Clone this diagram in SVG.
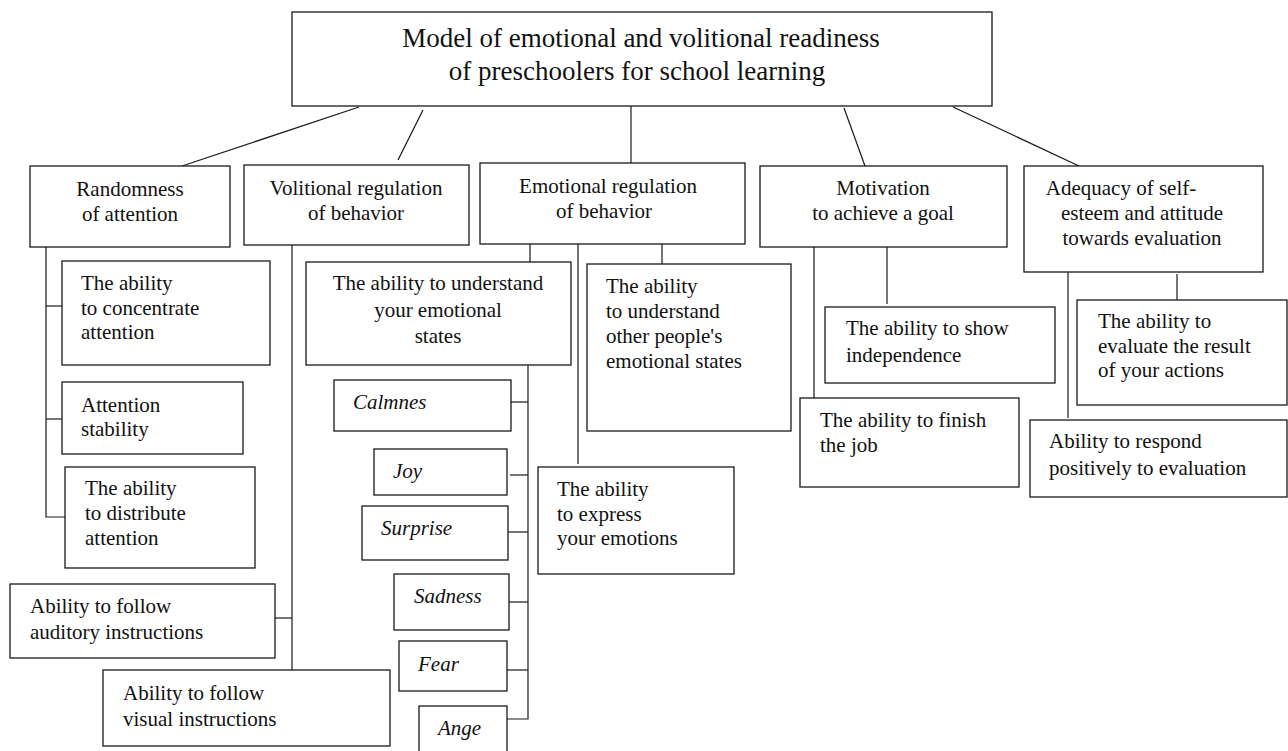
<svg xmlns="http://www.w3.org/2000/svg" width="1288" height="751" viewBox="0 0 1288 751">
<style>
rect{fill:#fff;stroke:#1a1a1a;stroke-width:1.3}
text{font-family:"Liberation Serif","Times New Roman",serif;font-size:21px;fill:#111}
.t{font-size:27px}
.c{text-anchor:middle}
.i{font-style:italic}
#connectors line,#connectors polyline{stroke:#1a1a1a;stroke-width:1.2;fill:none}
</style>
<rect x="0" y="0" width="1288" height="751" style="stroke:none;fill:#fff"/>
<g id="connectors">
<line x1="359" y1="107" x2="182" y2="166"/>
<line x1="423" y1="110" x2="398" y2="160"/>
<line x1="631" y1="106" x2="631" y2="163"/>
<line x1="844" y1="108" x2="865" y2="166"/>
<line x1="953" y1="107" x2="1079" y2="166"/>
<polyline points="46,247 46,517 65,517"/>
<line x1="46" y1="306" x2="62" y2="306"/>
<line x1="46" y1="419" x2="62" y2="419"/>
<line x1="292" y1="245" x2="292" y2="670"/>
<line x1="275" y1="618" x2="292" y2="618"/>
<line x1="530" y1="244" x2="530" y2="262"/>
<line x1="578" y1="244" x2="578" y2="464"/>
<line x1="662" y1="244" x2="662" y2="264"/>
<polyline points="528,365 528,719 507,719"/>
<line x1="511" y1="402" x2="528" y2="402"/>
<line x1="510" y1="475" x2="528" y2="475"/>
<line x1="508" y1="532" x2="528" y2="532"/>
<line x1="509" y1="602" x2="528" y2="602"/>
<line x1="507" y1="670" x2="528" y2="670"/>
<line x1="814" y1="247" x2="814" y2="398"/>
<line x1="887" y1="247" x2="887" y2="304"/>
<line x1="1068" y1="272" x2="1068" y2="418"/>
<line x1="1177" y1="274" x2="1177" y2="300"/>
</g>
<g id="root"><rect x="292" y="12" width="700" height="94"/>
<text class="t c" x="641" y="47">Model of emotional and volitional readiness</text>
<text class="t c" x="637" y="80">of preschoolers for school learning</text></g>
<g id="randomness"><rect x="30" y="166" width="200" height="81"/>
<text class="c" x="130" y="196">Randomness</text><text class="c" x="130" y="221">of attention</text></g>
<g id="volitional"><rect x="244" y="165" width="225" height="80"/>
<text class="c" x="356" y="195">Volitional regulation</text><text class="c" x="356" y="220">of behavior</text></g>
<g id="emotional"><rect x="480" y="163" width="265" height="81"/>
<text class="c" x="608" y="193">Emotional regulation</text><text class="c" x="604" y="218">of behavior</text></g>
<g id="motivation"><rect x="760" y="166" width="247" height="81"/>
<text class="c" x="883" y="195">Motivation</text><text class="c" x="883" y="220">to achieve a goal</text></g>
<g id="adequacy"><rect x="1024" y="166" width="239" height="106"/>
<text class="c" x="1121" y="195">Adequacy of self-</text><text class="c" x="1142" y="220">esteem and attitude</text><text class="c" x="1142" y="245">towards evaluation</text></g>
<g id="concentrate"><rect x="62" y="261" width="208" height="104"/>
<text x="81" y="290">The ability</text><text x="81" y="315">to concentrate</text><text x="81" y="339">attention</text></g>
<g id="stability"><rect x="62" y="382" width="181" height="72"/>
<text x="81" y="412">Attention</text><text x="81" y="436">stability</text></g>
<g id="distribute"><rect x="65" y="467" width="190" height="101"/>
<text x="85" y="495">The ability</text><text x="85" y="520">to distribute</text><text x="85" y="545">attention</text></g>
<g id="auditory"><rect x="10" y="584" width="265" height="74"/>
<text x="30" y="613">Ability to follow</text><text x="30" y="639">auditory instructions</text></g>
<g id="visual"><rect x="103" y="670" width="287" height="76"/>
<text x="123" y="700">Ability to follow</text><text x="123" y="726">visual instructions</text></g>
<g id="understand-own"><rect x="306" y="262" width="265" height="103"/>
<text class="c" x="438" y="290">The ability to understand</text><text class="c" x="438" y="317">your emotional</text><text class="c" x="438" y="343">states</text></g>
<g id="calmnes"><rect x="334" y="380" width="177" height="51"/><text class="i" x="353" y="409">Calmnes</text></g>
<g id="joy"><rect x="374" y="449" width="133" height="46"/><text class="i" x="393" y="478">Joy</text></g>
<g id="surprise"><rect x="362" y="506" width="146" height="54"/><text class="i" x="381" y="535">Surprise</text></g>
<g id="sadness"><rect x="394" y="574" width="115" height="56"/><text class="i" x="414" y="603">Sadness</text></g>
<g id="fear"><rect x="399" y="641" width="108" height="50"/><text class="i" x="418" y="671">Fear</text></g>
<g id="ange"><rect x="419" y="706" width="88" height="60"/><text class="i" x="438" y="735">Ange</text></g>
<g id="understand-others"><rect x="587" y="264" width="204" height="167"/>
<text x="606" y="293">The ability</text><text x="606" y="318">to understand</text><text x="606" y="343">other people's</text><text x="606" y="368">emotional states</text></g>
<g id="express"><rect x="538" y="467" width="196" height="107"/>
<text x="557" y="496">The ability</text><text x="557" y="521">to express</text><text x="557" y="545">your emotions</text></g>
<g id="independence"><rect x="825" y="307" width="230" height="76"/>
<text x="846" y="335">The ability to show</text><text x="846" y="362">independence</text></g>
<g id="finish"><rect x="800" y="398" width="219" height="89"/>
<text x="820" y="427">The ability to finish</text><text x="820" y="452">the job</text></g>
<g id="evaluate"><rect x="1077" y="300" width="210" height="105"/>
<text x="1098" y="328">The ability to</text><text x="1098" y="353">evaluate the result</text><text x="1098" y="377">of your actions</text></g>
<g id="respond"><rect x="1030" y="420" width="257" height="77"/>
<text x="1049" y="448">Ability to respond</text><text x="1049" y="475">positively to evaluation</text></g>
</svg>
